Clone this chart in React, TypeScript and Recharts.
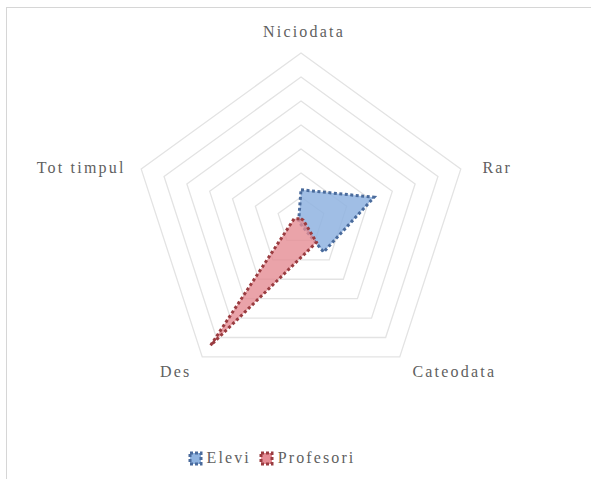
import React from "react";
import { RadarChart, Radar, PolarGrid, PolarAngleAxis, PolarRadiusAxis } from "recharts";

const categories = ["Niciodata", "Rar", "Cateodata", "Des", "Tot timpul"];
const elevi = [13, 32, 16, 1, 1];
const profesori = [1, 1, 11, 64, 3];
const seriesNames = ["Elevi", "Profesori"];
const radiusTicks = [0, 10, 20, 30, 40, 50, 60, 70];

const data = categories.map((c, i) => ({ cat: c, Elevi: elevi[i], Profesori: profesori[i] }));

const FONT = "'Liberation Serif', 'DejaVu Serif', serif";

const tickOffsets: Record<string, [number, number]> = {
  Niciodata: [3, -8],
  Rar: [14, 3],
  Cateodata: [8, 2],
  Des: [-6, 2],
  "Tot timpul": [-8, 3],
};

const AngleTick = (props: any) => {
  const { x, y, payload, textAnchor } = props;
  const v = payload.value as string;
  const [dx, dy] = tickOffsets[v] || [0, 0];
  let baseline: any = "middle";
  if (v === "Niciodata") baseline = "auto";
  if (v === "Cateodata" || v === "Des") baseline = "hanging";
  return (
    <text
      x={x + dx}
      y={y + dy}
      textAnchor={textAnchor}
      dominantBaseline={baseline}
      fill="#5f5f5f"
      fontSize={16}
      fontFamily={FONT}
      letterSpacing={2.2}
    >
      {v}
    </text>
  );
};

const Legend = () => (
  <div
    style={{
      position: "absolute",
      top: 449,
      left: 0,
      width: 591,
      display: "flex",
      justifyContent: "center",
      fontFamily: FONT,
      fontSize: 16,
      color: "#5f5f5f",
      letterSpacing: 2.1,
    }}
  >
    <div style={{ display: "flex", alignItems: "center", marginLeft: -48 }}>
      <svg width={15} height={15} style={{ marginRight: 4 }}>
        <rect x={2} y={2} width={11} height={11} fill="#8fb3e0" stroke="#4a6b9c" strokeWidth={3} strokeDasharray="3 2" />
      </svg>
      <span>{seriesNames[0]}</span>
      <svg width={15} height={15} style={{ marginLeft: 8, marginRight: 4 }}>
        <rect x={2} y={2} width={11} height={11} fill="#e58c94" stroke="#9a3c40" strokeWidth={3} strokeDasharray="3 2" />
      </svg>
      <span>{seriesNames[1]}</span>
    </div>
  </div>
);

export default function App() {
  return (
    <div style={{ position: "absolute", left: 0, top: 0, width: 591, height: 479, background: "#fff", overflow: "hidden" }}>
      <div
        style={{
          position: "absolute",
          left: 6,
          top: 7,
          width: 600,
          height: 500,
          borderLeft: "1.5px solid #d6d6d6",
          borderTop: "1.5px solid #d6d6d6",
        }}
      />
      <div style={{ position: "absolute", left: 0, top: 0 }}>
        <RadarChart width={591} height={479} data={data} cx={301} cy={221} outerRadius={168} startAngle={90} endAngle={-270}>
          <PolarGrid gridType="polygon" radialLines={false} stroke="#e3e3e3" strokeWidth={1.3} />
          <PolarAngleAxis dataKey="cat" tick={<AngleTick />} tickLine={false} axisLine={false} />
          <PolarRadiusAxis domain={[0, 70]} ticks={radiusTicks as any} tick={false} axisLine={false} />
          <Radar
            dataKey="Elevi"
            stroke="#4a6b9c"
            strokeWidth={3}
            strokeDasharray="3 2.5"
            fill="#8fb3e0"
            fillOpacity={0.85}
            isAnimationActive={false}
          />
          <Radar
            dataKey="Profesori"
            stroke="#9a3c40"
            strokeWidth={3}
            strokeDasharray="3 2.5"
            fill="#e58c94"
            fillOpacity={0.8}
            isAnimationActive={false}
          />
        </RadarChart>
      </div>
      <Legend />
    </div>
  );
}
